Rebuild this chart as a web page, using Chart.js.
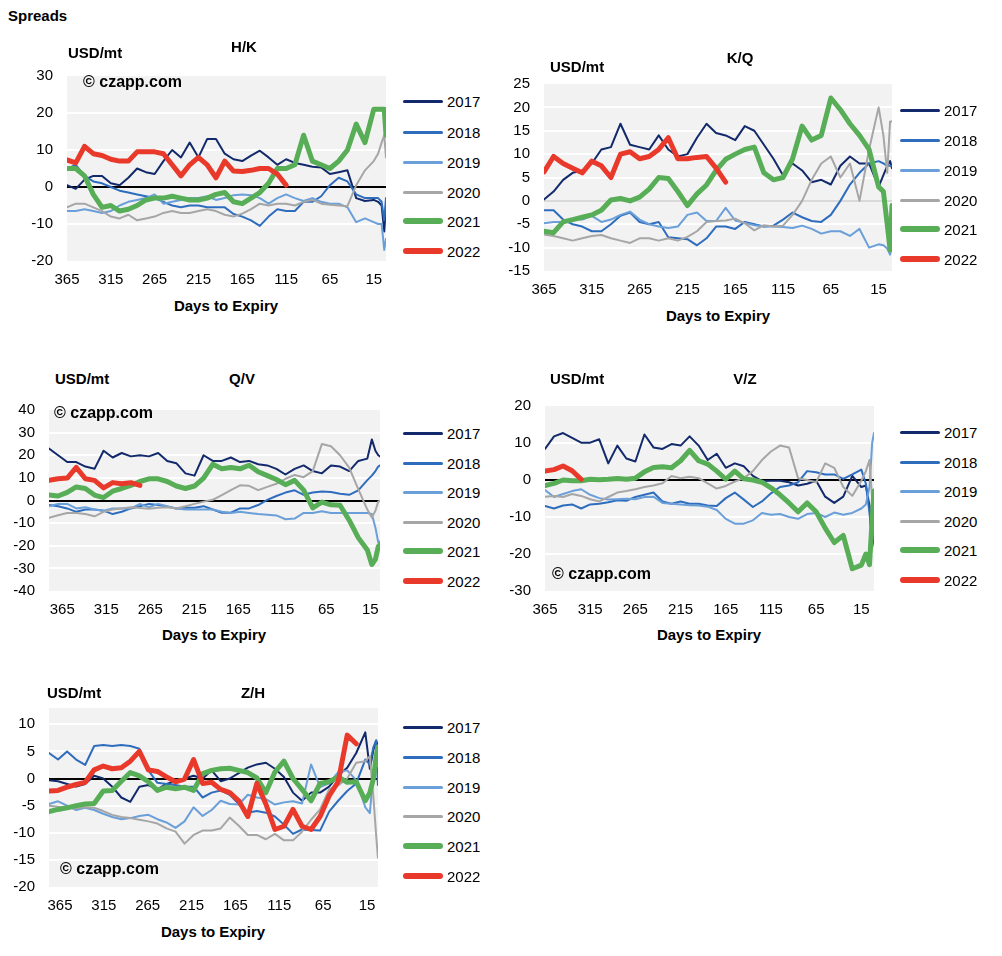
<!DOCTYPE html>
<html><head><meta charset="utf-8">
<script src="https://cdn.jsdelivr.net/npm/chart.js@4.4.0/dist/chart.umd.min.js"></script>
<style>
body{margin:0;background:#fff;width:1002px;height:956px;position:relative;overflow:hidden;font-family:"Liberation Sans",Arial,sans-serif;}
.t{position:absolute;white-space:nowrap;line-height:1;color:#000;}
canvas{position:absolute;}
.lg{position:absolute;border-radius:3px;}
</style></head><body>
<script>
// ---- categories (days to expiry) ----
const DAYS=[365,355,345,335,325,315,305,295,285,275,265,255,245,235,225,215,205,195,185,175,165,155,145,135,125,115,105,95,85,75,65,55,45,35,25,15,10,6,3,1];
const DAYS_QV=[380,369.7,359.3,349,338.7,328.3,318,307.7,297.4,287,276.7,266.4,256,245.7,235.4,225,214.7,204.4,194,183.7,173.4,163,152.7,142.4,132,121.7,111.4,101,90.7,80.4,70,59.7,49.4,39,28.7,18.4,13.3,9.2,6,4];
const DAYS_ZH=[377.5,367.2,356.9,346.6,336.3,326,315.7,305.4,295.1,284.8,274.5,264.2,253.9,243.6,233.3,223,212.7,202.4,192.1,181.8,171.5,161.2,150.9,140.6,130.3,120,109.7,99.4,89.1,78.8,68.5,58.2,47.9,37.6,27.3,17,11.8,7.7,4.6,2.6];
const X_TICKS=[365,315,265,215,165,115,65,15];
const YEARS=['2017','2018','2019','2020','2021','2022'];
const COLORS=['#12296b','#2e6dbe','#6a9fd9','#a6a6a6','#58ad57','#e8392b'];
const WIDTHS=[2,2,2,2,5,5];

// ---- H/K ----
const HK_2017=[0.5,-0.5,2,3,3,1,0.5,2.5,5,4,3.5,7,10,8,12,8,13,13,9,7.5,7,8.5,9.8,8,6,7.5,6.5,6,5.5,5.3,3.5,4,4.5,-3,-3.8,-3.5,-4,-5,-12,-5];
const HK_2018=[5,6,3,1.5,1,0,-1,-1.5,-2,-2.5,-3,-4,-5,-5.5,-5,-5,-5.5,-5.5,-5.5,-7.3,-8,-9,-10.5,-8,-6,-6.5,-6.5,-4,-4,-2.5,0.5,2.5,1.5,-2,-3,-3,-3,-4,-9,-3];
const HK_2019=[-6.5,-6.5,-6,-6.5,-7,-6.5,-5,-4,-3.5,-3,-2,-4.5,-4,-3.5,-3,-3,-2.5,-3.5,-3,-2.2,-2,-2.2,-3,-4.5,-3,-2,-3,-3.8,-3,-4,-4.5,-4.5,-5.5,-9.5,-8.5,-9.5,-10,-10,-17,-14];
const HK_2020=[-5.5,-4.5,-4.5,-5.5,-6.5,-8,-8.5,-7.5,-9,-8.5,-8,-7,-6.5,-7,-7,-6.5,-6,-6.5,-7.5,-8,-7.2,-6,-4.5,-5,-4.5,-4.5,-5,-4,-3.5,-4.5,-4.8,-5,-5.2,0.5,4.5,7,9,12,14,8];
const HK_2021=[5,5,3,-2,-5.5,-5,-6.5,-6,-5,-3.5,-3,-3,-2.5,-3,-3.5,-3.5,-3,-2,-1.5,-4,-4.5,-3,-1.5,1,5,5,6,14,7,6,5,7,10,17,12,21,21,21,21,14];
const HK_2022=[7.3,6.5,11,9,8.5,7.5,7,7,9.5,9.5,9.5,9,6,3,6,8,6,2.5,7,4.3,4.2,4.5,5,5,3.5,0.5,null,null,null,null,null,null,null,null,null,null,null,null,null,null];

// ---- K/Q ----
const KQ_2017=[0.3,2,4.5,6,6.5,8,11,11.5,16.5,12,11.5,11,14,11,9.5,10,13.5,16.5,14.5,14,13,16,15,12,9,5.5,8,6.5,4,4.5,3.5,7.5,9.5,8,8,3,5.5,7.5,8.5,7];
const KQ_2018=[-2,-2,-4,-5,-5.5,-6.5,-6.5,-5,-3.2,-2.5,-4.5,-5,-4.5,-7.8,-8,-8.2,-9.5,-8,-5.5,-5.5,-6,-4.5,-5,-5.5,-5.3,-4,-2.5,-3.5,-4.3,-4.5,-3,0,3.5,6,8,8.5,8,7.5,7.5,7.5];
const KQ_2019=[-4.8,-4.5,-4.5,-4,-4,-3.2,-4.5,-4,-3,-2.3,-4,-5,-5.5,-5.8,-5.5,-3,-2.5,-4.3,-4.3,-1.5,-4.2,-4.7,-5.2,-5.5,-5.5,-5.6,-5.8,-5.3,-6,-7,-6.5,-6.5,-7.5,-6,-10,-9.3,-9.5,-10.2,-11.5,-9];
const KQ_2020=[-7.2,-7.5,-8,-8.5,-8,-7.5,-7.3,-8,-8.5,-9,-8,-8,-8.5,-8,-8.5,-7.7,-6.5,-4.5,-4.3,-4.2,-3.8,-4.8,-6.3,-5.2,-5.5,-5.3,-3,0,4.5,8,9.5,5,8,0,11,20,14,6,17,17];
const KQ_2021=[-6.5,-6.8,-4.5,-4,-3.5,-3,-2,0.2,0.5,0,0.8,2.5,5,4.8,2,-1,1.5,3.4,6.5,8.9,10,11,11.5,6,4.5,5,9,16,13,14,22,19.5,16.5,14,11,3,2,-5,-10.5,-1];
const KQ_2022=[6.2,9.5,8,7,6,8.5,7.5,5,10,10.5,9,9.5,11,13.5,9,9,9.3,9.5,7,4,null,null,null,null,null,null,null,null,null,null,null,null,null,null,null,null,null,null,null,null];

// ---- Q/V ----
const QV_2017=[23,20,17,17,15,14,22,19,21,19.5,20,19.5,21,17.5,16.5,12,11,20,17.5,17.5,19,17,17.5,16,15.5,14,11.5,14,15.5,13,12,15.5,15,13,17.5,18.5,27,22,20,19.5];
const QV_2018=[-2,-2.5,-3.5,-5,-4,-4,-4.5,-6,-5,-3.5,-2.5,-1.5,-2,-2.7,-3.5,-3.2,-3.2,-2.5,-4,-5.4,-5.4,-3.5,-3.5,-2,0.3,2,3.5,4.5,2.5,3.5,4,3.8,3,2.5,4.5,9,11,13,15,15.5];
const QV_2019=[-2.5,-1.5,-1.5,-3.5,-3,-4,-4.5,-3.5,-3.5,-3.5,-1.5,-3,-1.5,-2.5,-3.5,-4,-4,-4,-4,-5,-5.5,-5,-5.5,-6,-6.3,-6.6,-8.3,-8,-5.5,-5.5,-4.8,-5.5,-5.5,-5.5,-5.5,-5.5,-6,-12,-18.5,-18];
const QV_2020=[-7.6,-6.5,-5.5,-5.5,-6,-7,-5,-4,-3.5,-3,-3.3,-3.6,-3.2,-3,-3.5,-2.5,-1.5,-0.5,0.3,2.4,4.6,6.7,6.5,4.6,6,7.4,9.6,11.3,10.3,13,25,24,20,14.5,5,-4,-7.5,-4.5,-0.5,0];
const QV_2021=[2.4,2,3.6,6,5.3,2.4,1.3,4.1,5.3,6.7,8.4,9.6,9.6,8.4,6.4,5.3,6.4,9.9,16,14,14.6,14,15.6,12.7,11,9.3,7,8.9,4.6,-3.3,-0.7,-1.9,-2.1,-8.7,-16.4,-21.9,-28.3,-26,-20.4,-19.5];
const QV_2022=[8.9,9.6,9.9,14.6,9.6,8.9,5.6,7.9,7.4,7.9,6.7,null,null,null,null,null,null,null,null,null,null,null,null,null,null,null,null,null,null,null,null,null,null,null,null,null,null,null,null,null];

// ---- V/Z ----
const VZ_2017=[8.4,11.8,12.7,11.4,10.1,10.1,11,4.5,9.3,5.8,5,12.3,8.8,8.4,9.7,9.3,11.8,9.3,5.4,7.1,3.3,4.5,3.7,1.1,-0.3,-0.2,-0.2,-0.6,-1.5,-1,-0.2,-4.5,-6.2,-4.5,1.1,-1.9,-1.5,-7,-18,-15];
const VZ_2018=[-7,-7.7,-6.9,-6.6,-7.7,-6.6,-6.4,-6,-5.5,-5.6,-4.6,-4,-3.4,-5.8,-6.4,-5.8,-6.4,-6.4,-6.9,-7,-4.9,-3.4,-5.3,-7.3,-5.8,-3.6,-1.9,-1.5,-0.6,2.4,2.1,1.5,1.5,0.3,1.5,2.8,-1,-8.8,-17,-12];
const VZ_2019=[-2.7,-4.6,-3.8,-3,-2.5,-4,-4.9,-5.3,-5.2,-5.1,-5.2,-4.6,-4.5,-6.2,-6.4,-6.6,-6.8,-6.9,-7.2,-8.1,-10.5,-11.8,-11.8,-10.9,-8.9,-9.4,-9.2,-10,-10.5,-9.2,-8.9,-10,-8.8,-9.4,-8.9,-7.7,-6.6,-1.9,10.1,12.7];
const VZ_2020=[-4.5,-4.3,-4.6,-3.8,-4.3,-5.2,-5.8,-4.6,-3.4,-3,-2.5,-1.9,-1.5,-0.9,1.1,0.5,0.9,0.5,-0.9,-2.3,-1.6,-0.4,0.5,2.4,5.4,7.7,9.3,8.8,0.5,0,-0.6,4.5,3.3,-1.9,-4.3,-0.2,2.4,5.4,-5.3,-3];
const VZ_2021=[-1.5,-0.9,0,-0.2,-0.2,0.2,0.1,0.2,0.4,0.2,0.5,2.2,3.4,3.6,3.3,5.2,8,5.2,4.3,2.4,0.2,2.4,0.3,0,-0.6,-2.1,-4,-6.2,-8.6,-6.2,-8.6,-13,-16.9,-15,-24,-23,-20,-22.9,-10.5,-3];
const VZ_2022=[2.4,2.8,3.8,2.5,0.2,null,null,null,null,null,null,null,null,null,null,null,null,null,null,null,null,null,null,null,null,null,null,null,null,null,null,null,null,null,null,null,null,null,null,null];

// ---- Z/H ----
const ZH_2017=[-0.3,-0.5,-1,-1.5,-1,0.5,0,-1.5,-3.5,-4.3,-1.5,-1.2,-2,-1,-0.5,0,0.5,0,1.5,-0.5,0,1,2,2.6,2.9,1.8,0.3,-2.6,-4.1,-2.6,-2.6,-1.5,0.6,2,4.7,8.5,1.8,5.3,7,6];
const ZH_2018=[4.7,3.5,5,3.5,2.5,6,6.2,6,6.2,6,5.5,1.5,-0.8,-1,-1.2,-1.5,-1.5,-3.5,-2.6,-2.2,-3,-4.7,-6.3,-6,-6.3,-7,-8.5,-10.2,-9.4,-9.5,-9.6,-6.1,-4.1,-2.3,-0.9,3.5,2.6,5.8,7,-1.2];
const ZH_2019=[-4.7,-4.2,-5,-5.8,-5.4,-5.8,-6.5,-7.1,-7.5,-7.3,-6.9,-6.7,-7.5,-8.1,-9.1,-7.9,-5.3,-6.9,-5.8,-4.1,-4.7,-4.8,-3,-3.5,-3.8,-4.8,-4.4,-4.2,-4.6,2.6,-1.6,-0.9,1.2,1.5,-0.3,-5.3,-6.4,1.2,3.5,2.3];
const ZH_2020=[-5,-5.2,-5.5,-5.5,-5.3,-5.4,-6,-6.7,-7.1,-7.3,-7.6,-7.9,-8.3,-9.2,-9.8,-12,-10.4,-9.6,-9.6,-9.2,-7.2,-8.7,-10.4,-10.4,-11.2,-10.2,-11.4,-11.4,-9.8,-7.6,-5.7,-2,-1.3,0,2.9,3.2,4.1,-3.5,-10.5,-14.6];
const ZH_2021=[-6.1,-5.7,-5.4,-5,-4.7,-4.6,-2.3,-2.2,-0.5,1.1,0.5,-0.6,-2.2,-1.6,-1.9,-1.6,-2.2,0.9,1.5,1.8,1.9,1.5,1.1,0.1,-2.6,1.2,3.2,0,-2,-4.1,-0.9,-0.6,0.3,-0.7,-0.6,-4.1,-2.6,0,4.1,5.8];
const ZH_2022=[-2.3,-2.2,-1.6,-1.1,-0.7,1.6,2.3,1.8,2,3.2,5,1.6,1.3,0.3,-0.6,-0.1,3.5,-0.9,-0.7,-2,-2.6,-4.1,-7,-0.9,-4.7,-9.4,-8.8,-5.7,-8.8,-9.4,-7,-3.2,-0.6,8,6.4,null,null,null,null,null];

// ---- panel layout ----
const PANELS=[
 {title:'H/K',days:DAYS,x:[1,365],series:[HK_2017,HK_2018,HK_2019,HK_2020,HK_2021,HK_2022],area:[67,67,386,261],y:[-20,30,10],zero:'#000',
  unit:[68,52],ttl:[244,46],xt:[226,305],wm:[83,82],lg:[403,[101,132,162,192,221,251]]},
 {title:'K/Q',days:DAYS,x:[1,365],series:[KQ_2017,KQ_2018,KQ_2019,KQ_2020,KQ_2021,KQ_2022],area:[544,75,892,271],y:[-15,25,5],zero:'#d9d9d9',
  unit:[550,66],ttl:[740,57],xt:[718,315],wm:null,lg:[900,[110,140,170,200,229,259]]},
 {title:'Q/V',days:DAYS_QV,x:[4,380],series:[QV_2017,QV_2018,QV_2019,QV_2020,QV_2021,QV_2022],area:[49,401,380,591],y:[-40,40,10],zero:'#000',
  unit:[55,378],ttl:[242,378],xt:[214,634],wm:[54,413],lg:[403,[433,463,492,522,551,581]]},
 {title:'V/Z',days:DAYS,x:[1,365],series:[VZ_2017,VZ_2018,VZ_2019,VZ_2020,VZ_2021,VZ_2022],area:[545,397,874,591],y:[-30,20,10],zero:'#000',
  unit:[550,378],ttl:[745,378],xt:[709,634],wm:[552,574],lg:[900,[432,462,491,521,550,580]]},
 {title:'Z/H',days:DAYS_ZH,x:[2.5,377.5],series:[ZH_2017,ZH_2018,ZH_2019,ZH_2020,ZH_2021,ZH_2022],area:[49,699,378,887],y:[-20,13,5],zero:'#000',
  unit:[47,692],ttl:[253,692],xt:[213,931],wm:[60,869],lg:[403,[727,757,787,816,846,876]]}
];

const FONT='"Liberation Sans", Arial, sans-serif';
function txt(s,x,y,size,bold,center){
  const d=document.createElement('div');d.className='t';d.textContent=s;
  d.style.left=x+'px';d.style.top=y+'px';d.style.fontSize=size+'px';
  d.style.fontWeight=bold?'700':'400';
  d.style.transform=center?'translate(-50%,-50%)':'translate(0,-50%)';
  document.body.appendChild(d);
}
txt('Spreads',8,15,15,true,false);

const bgPlugin={id:'bg',beforeDraw(c){const a=c.chartArea,x=c.ctx;x.save();x.fillStyle='#f2f2f2';x.fillRect(a.left,a.top,a.right-a.left,a.bottom-a.top);x.restore();}};
const zeroPlugin={id:'zero',beforeDatasetsDraw(c,args,o){const a=c.chartArea,x=c.ctx,y=Math.round(c.scales.y.getPixelForValue(0));
  x.save();x.strokeStyle=o.color;x.lineWidth=2;x.beginPath();x.moveTo(a.left,y);x.lineTo(a.right,y);x.stroke();x.restore();}};

const PADL=48,PADT=14,PADR=14,XH=32;
PANELS.forEach(p=>{
  const [L,T,R,B]=p.area;
  const cv=document.createElement('canvas');
  const w=(R-L)+PADL+PADR,h=(B-T)+PADT+XH;
  cv.width=w;cv.height=h;cv.style.left=(L-PADL)+'px';cv.style.top=(T-PADT)+'px';
  cv.style.width=w+'px';cv.style.height=h+'px';
  document.body.appendChild(cv);
  const [ymin,ymax,ystep]=p.y;
  const yt=[];for(let v=Math.floor(ymax/ystep)*ystep;v>=ymin;v-=ystep)yt.push(v);
  const datasets=p.series.map((s,i)=>({label:YEARS[i],data:s.map((v,j)=>({x:p.days[j],y:v})),
    borderColor:COLORS[i],backgroundColor:COLORS[i],borderWidth:WIDTHS[i],pointRadius:0,tension:0,
    borderJoinStyle:'round',borderCapStyle:'round',order:5-i,spanGaps:false}));
  new Chart(cv,{type:'line',data:{datasets},
    options:{responsive:false,animation:false,devicePixelRatio:1,
      layout:{padding:{left:0,top:PADT,right:PADR,bottom:0}},
      plugins:{legend:{display:false},tooltip:{enabled:false},zero:{color:p.zero}},
      scales:{
        x:{type:'linear',reverse:true,min:p.x[0],max:p.x[1],
          afterBuildTicks:s=>{s.ticks=X_TICKS.map(v=>({value:v}));},
          afterFit:s=>{s.height=XH;},
          grid:{display:false,drawTicks:false},border:{display:false},
          ticks:{autoSkip:false,maxRotation:0,padding:10,color:'#000',font:{family:FONT,size:15},callback:v=>String(v)}},
        y:{min:ymin,max:ymax,
          afterBuildTicks:s=>{s.ticks=yt.map(v=>({value:v}));},
          afterFit:s=>{s.width=PADL;},
          grid:{drawTicks:false,lineWidth:2,color:c=>{const v=c.tick&&c.tick.value;return (v===0||v===ymax||v===ymin)?'rgba(0,0,0,0)':'#ffffff';}},
          border:{display:false},
          ticks:{padding:14,color:'#000',font:{family:FONT,size:15},callback:v=>String(v)}}
      }},
    plugins:[bgPlugin,zeroPlugin]});
  txt('USD/mt',p.unit[0],p.unit[1],15,true,false);
  txt(p.title,p.ttl[0],p.ttl[1],15,true,true);
  txt('Days to Expiry',p.xt[0],p.xt[1],15,true,true);
  if(p.wm) txt('\u00A9 czapp.com',p.wm[0],p.wm[1],16,true,false);
  const [lx,lys]=p.lg;
  YEARS.forEach((yr,i)=>{
    const d=document.createElement('div');d.className='lg';
    const th=WIDTHS[i]===5?6:3;
    d.style.left=lx+'px';d.style.top=(lys[i]-th/2)+'px';d.style.width='40px';d.style.height=th+'px';
    d.style.background=COLORS[i];document.body.appendChild(d);
    txt(yr,lx+44,lys[i],15,false,false);
  });
});
</script>
</body></html>
